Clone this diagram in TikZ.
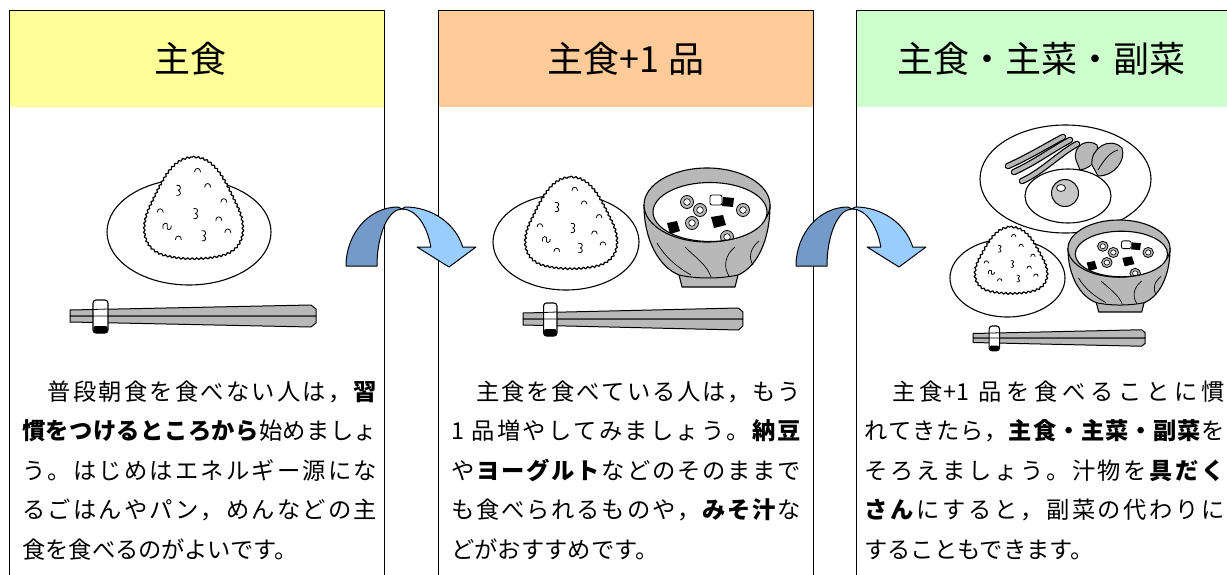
\documentclass[tikz,border=0pt]{standalone}
\usepackage{fontspec}
\setmainfont{Noto Sans CJK JP}
\usetikzlibrary{decorations.pathmorphing}
\definecolor{hy}{HTML}{FFFF99}
\definecolor{ho}{HTML}{FFCC99}
\definecolor{hg}{HTML}{CCFFCC}
\definecolor{adark}{HTML}{739AC8}
\definecolor{alight}{HTML}{99CCFF}
\definecolor{ht}{gray}{0.72}
\newcommand\jB{\bfseries}
\newcommand\jN{\mdseries}
\def\jBt{\jB}
\def\jNt{\jN}
\makeatletter
\newcommand\jline[2]{\hbox to #1{\@tfor\jx:=#2\do{\jx\ifx\jx\jBt\else\ifx\jx\jNt\else\hskip0pt plus1fil\fi\fi}\unskip}}
\makeatother
\tikzset{
  hdr/.style={anchor=north west, minimum width=375pt, minimum height=97pt, inner sep=0pt, outer sep=0pt},
  panel/.style={anchor=north west, draw=black, line width=1.2pt, minimum width=375pt, minimum height=640pt, inner sep=0pt},
  title/.style={font=\fontsize{36}{40}\selectfont, inner sep=0pt},
  jt/.style={font=\fontsize{23.3}{28}\selectfont, anchor=base west, inner sep=0pt},
  plate/.style={draw=black, fill=white, line width=1.1pt},
  thin/.style={line width=0.8pt},
  onigiri/.pic={
    \draw[fill=white, line width=1.2pt, decorate, decoration={snake,segment length=4.5pt,amplitude=0.9pt}]
      (0,-50) .. controls (22,-50) and (32,-25) .. (44,0) .. controls (52,18) and (52,40) .. (30,47)
      .. controls (12,52) and (-12,52) .. (-30,47) .. controls (-52,40) and (-52,18) .. (-44,0)
      .. controls (-32,-25) and (-22,-50) .. (0,-50) -- cycle;
    \foreach \p in {(5,-37),(31,-7),(-32,3),(26,11),(35,23),(-14,30),(15,-22)}
      \draw[thin, shift={\p}] (-3,2) .. controls (-3,-3) and (3,-3) .. (3,2);
    \foreach \p in {(-14,-17),(3,6),(11,28)}
      \draw[thin, shift={\p}] (-2,-5) .. controls (3,-6) and (3,-1) .. (0,0) .. controls (3,1) and (3,6) .. (-2,5);
    \draw[thin, shift={(-25,18)}] (-4,3) .. controls (-6,-4) and (2,-4) .. (0,1) .. controls (-2,5) and (5,5) .. (4,0);
  },
  bowl/.pic={
    \draw[fill=ht, line width=1.1pt] (-63,0) .. controls (-63,35) and (-48,62) .. (-28,70) -- (-25,82) -- (28,82) -- (31,70)
      .. controls (50,62) and (63,35) .. (63,0) -- cycle;
    \draw[line width=1pt] (-28,70) .. controls (-10,74) and (12,74) .. (31,70);
    \draw[line width=0.7pt] (-50,38) .. controls (-42,52) and (-30,62) .. (-16,70)
      (-22,42) .. controls (-12,52) and (0,60) .. (4,72)
      (28,42) .. controls (18,50) and (16,62) .. (22,71)
      (52,36) .. controls (42,44) and (42,54) .. (46,60);
    \draw[fill=ht, line width=1.1pt] (0,0) ellipse[x radius=63, y radius=37];
    \begin{scope}
      \clip (3,7) ellipse[x radius=57, y radius=29.5];
      \fill[white] (3,7) ellipse[x radius=57, y radius=29.5];
      \fill[black] (-40,18) -- (-30,16) -- (-27,26) -- (-37,29) -- cycle;
      \fill[black] (16,-8) -- (27,-7) -- (26,2) -- (15,1) -- cycle;
      \fill[black] (4,12) -- (16,10) -- (19,20) -- (7,23) -- cycle;
      \draw[fill=white, thin, rounded corners=2pt] (3,-10) rectangle (15,0);
      \foreach \p in {(-20,-3),(-7,5),(-15,18),(36,5),(20,32)} {
        \draw[fill=ht, thin] \p circle[radius=6.5];
        \draw[fill=white, line width=0.6pt] \p circle[radius=3.3];
      }
    \end{scope}
    \draw[line width=1.1pt] (3,7) ellipse[x radius=57, y radius=29.5];
  },
  chop/.pic={
    \draw[fill=ht, line width=1pt] (0,-6) -- (241,-11) -- (246,-7) -- (246,0) -- (0,0) -- cycle;
    \draw[fill=ht, line width=1pt] (0,0) -- (246,0) -- (246,7) -- (241,11) -- (0,6) -- cycle;
    \draw[fill=white, line width=1.1pt, rounded corners=3pt] (23,-16) rectangle (38,17);
    \fill[black, rounded corners=2pt] (23.5,10) rectangle (37.5,17);
    \draw[thin] (23,-6.5) -- (38,-7) (23,0) -- (38,0);
  },
  uarrow/.pic={
    \draw[fill=alight, line width=1pt, line join=round] (59,-59) arc[start angle=270, end angle=344.2, x radius=60, y radius=55]
      -- (130,-19) -- (103,1) -- (71,-19) -- (84.8,-19)
      arc[start angle=343.6, end angle=270, x radius=30, y radius=53] -- cycle;
    \draw[fill=adark, line width=1pt, line join=round] (0,0) arc[start angle=180, end angle=270, x radius=52, y radius=59]
      -- (56,-57) arc[start angle=270, end angle=180, x radius=25, y radius=57] -- cycle;
  }
}
\begin{document}
\begin{tikzpicture}[x=1pt, y=-1pt, line join=round]
\useasboundingbox (0,0) rectangle (1227,575);
\clip (0,0) rectangle (1227,575);
\fill[white] (0,0) rectangle (1227,575);

% headers and panels
\node[hdr, fill=hy] (h1) at (9,10) {};
\node[hdr, fill=ho] (h2) at (438,10) {};
\node[hdr, fill=hg] (h3) at (856,10) {};
\node[panel] (p1) at (9,10) {};
\node[panel] (p2) at (438,10) {};
\node[panel] (p3) at (856,10) {};
\node[title] (t1) at (190,58.5) {主食};
\node[title] (t2) at (626,58.5) {主食+1 品};
\node[title] (t3) at (1041.5,58.5) {主食・主菜・副菜};

% panel 1 illustration
\draw[plate] (189,232) ellipse[x radius=82, y radius=53];
\pic[scale=1.01] (on1) at (192.5,207.5) {onigiri};
\pic (ch1) at (70,316) {chop};

% panel 2 illustration
\draw[plate] (566,242) ellipse[x radius=73, y radius=48];
\pic[xscale=0.94, yscale=0.91] (on2) at (570,222.5) {onigiri};
\pic (bw2) at (707,205) {bowl};
\pic[xscale=0.894] (ch2) at (523,319) {chop};

% panel 3 illustration
\draw[plate] (1065.5,179) ellipse[x radius=85.5, y radius=54];
\draw[fill=white, line width=1.1pt] (1068,196) ellipse[x radius=43, y radius=27];
\draw[fill=black!22, line width=1pt] (1065,193) circle[radius=13.5];
\draw[fill=white, line width=0.7pt] (1061,188) ellipse[x radius=4.5, y radius=3.5];
\foreach \a/\b/\c/\d in {1008/166/1063/137, 1014/172/1070/140, 1022/181/1077/144} {
  \draw[line width=6.5pt, line cap=round] (\a,\b) .. controls ({\a+20},{\b-9}) and ({\c-17},{\d+9}) .. (\c,\d);
  \draw[line width=4pt, line cap=round, ht] (\a,\b) .. controls ({\a+20},{\b-9}) and ({\c-17},{\d+9}) .. (\c,\d);
}
\draw[fill=ht, line width=1pt] (1076,160) .. controls (1072,145) and (1088,138) .. (1097,145) .. controls (1100,155) and (1094,168) .. (1080,170) -- cycle;
\draw[fill=ht, line width=1pt] (1092,165) .. controls (1090,148) and (1110,136) .. (1122,148) .. controls (1126,160) and (1115,176) .. (1098,176) -- cycle;
\draw[thin] (1098,170) .. controls (1104,160) and (1110,152) .. (1118,150);
\draw[plate] (1007.5,278) ellipse[x radius=57.5, y radius=39];
\pic[xscale=0.74, yscale=0.66] (on3) at (1010,260) {onigiri};
\pic[xscale=0.81, yscale=0.773] (bw3) at (1119,248.6) {bowl};
\pic[xscale=0.7, yscale=0.75] (ch3) at (973,338) {chop};

% arrows
\pic (ar1) at (346,266) {uarrow};
\pic (ar2) at (796,266) {uarrow};

% texts panel 1
\node[jt] (a1) at (22,400) {\jline{355pt}{　普段朝食を食べない人は，\jB 習}};
\node[jt] (a2) at (22,439.5) {\jline{355pt}{\jB 慣をつけるところから\jN 始めましょ}};
\node[jt] (a3) at (22,479) {\jline{355pt}{う。はじめはエネルギー源にな}};
\node[jt] (a4) at (22,518.5) {\jline{355pt}{るごはんやパン，めんなどの主}};
\node[jt] (a5) at (22,558) {食を食べるのがよいです。};

% texts panel 2
\node[jt] (b1) at (451,400) {\jline{350pt}{　主食を食べている人は，もう}};
\node[jt] (b2) at (451,439.5) {\jline{350pt}{{1 }品増やしてみましょう。\jB 納豆}};
\node[jt] (b3) at (451,479) {\jline{350pt}{や\jB ヨーグルト\jN などのそのままで}};
\node[jt] (b4) at (451,518.5) {\jline{350pt}{も食べられるものや，\jB みそ汁\jN な}};
\node[jt] (b5) at (451,558) {どがおすすめです。};

% texts panel 3
\node[jt] (c1) at (864,400) {\jline{361pt}{　主{食+1 }品を食べることに慣}};
\node[jt] (c2) at (864,439.5) {\jline{361pt}{れてきたら，\jB 主食・主菜・副菜\jN を}};
\node[jt] (c3) at (864,479) {\jline{361pt}{そろえましょう。汁物を\jB 具だく}};
\node[jt] (c4) at (864,518.5) {\jline{361pt}{\jB さん\jN にすると，副菜の代わりに}};
\node[jt] (c5) at (864,558) {することもできます。};
\end{tikzpicture}
\end{document}
